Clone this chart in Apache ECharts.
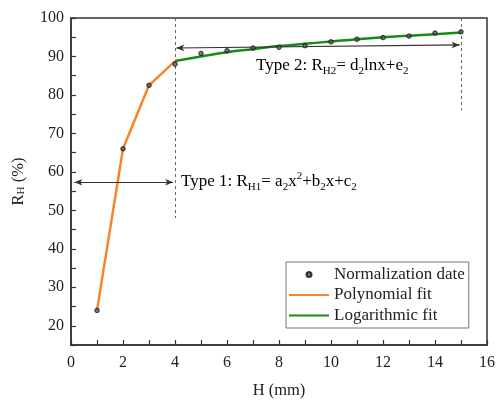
<!DOCTYPE html>
<html>
<head>
<meta charset="utf-8">
<script src="https://cdn.jsdelivr.net/npm/echarts@6/dist/echarts.min.js"></script>
<style>
  html, body { margin: 0; padding: 0; background: #fff; }
  #chart { width: 498px; height: 400px; }
</style>
</head>
<body>
<div id="chart"></div>
<script>
// Measured normalization points
const pointH = [1, 2, 3, 4, 5, 6, 7, 8, 9, 10, 11, 12, 13, 14, 15];
const pointR = [24.0, 66.0, 82.5, 88.0, 90.8, 91.5, 92.2, 92.4, 92.8, 93.8, 94.5, 94.9, 95.3, 96.1, 96.4];

// Polynomial fit (Type 1 region, H = 1..4)
const polyH = [1, 2, 3, 4];
const polyR = [24.0, 66.0, 82.5, 88.8];

// Logarithmic fit (Type 2 region, H = 4..15)
const logH = [4, 5, 6, 7, 8, 9, 10, 11, 12, 13, 14, 15];
const logR = [88.8, 90.0, 91.1, 91.9, 92.7, 93.3, 93.9, 94.5, 95.0, 95.4, 95.8, 96.2];

// Region boundaries and range arrows
const boundary1 = { h: 4, from: 100, to: 48 };
const boundary2 = { h: 15, from: 100, to: 76 };
const arrow1 = [[0.13, 57.3], [3.93, 57.3]];
const arrow2 = [[4.05, 92.2], [14.95, 93.0]];

const xTicks = [0, 2, 4, 6, 8, 10, 12, 14, 16];
const yTicks = [20, 30, 40, 50, 60, 70, 80, 90, 100];

const pair = (xs, ys) => xs.map((x, i) => [x, ys[i]]);

const serif = '"Liberation Serif", "Times New Roman", serif';
const axisColor = '#333';
const orange = '#f5842a';
const green = '#188a18';

const chart = echarts.init(document.getElementById('chart'), null, { renderer: 'canvas' });

const eqRich = {
  base: { fontFamily: serif, fontSize: 17, color: '#222', lineHeight: 22 },
  sub: { fontFamily: serif, fontSize: 11, color: '#222', lineHeight: 12, verticalAlign: 'bottom' },
  sup: { fontFamily: serif, fontSize: 11, color: '#222', lineHeight: 12, verticalAlign: 'top' }
};

chart.setOption({
  animation: false,
  backgroundColor: '#fff',
  textStyle: { fontFamily: serif },
  grid: {
    left: 71, right: 11, top: 18, bottom: 55,
    outerBoundsMode: 'none',
    show: true, borderColor: axisColor, borderWidth: 1.5, backgroundColor: 'transparent'
  },
  xAxis: {
    type: 'value', min: 0, max: 16, interval: 1,
    name: 'H (mm)', nameLocation: 'middle', nameGap: 37,
    nameTextStyle: { fontFamily: serif, fontSize: 16.5, color: '#222' },
    axisLine: { show: true, onZero: false, lineStyle: { color: axisColor, width: 1.5 } },
    axisTick: { show: true, inside: true, length: 5, lineStyle: { color: axisColor, width: 1.2 } },
    axisLabel: {
      fontFamily: serif, fontSize: 16, color: '#222', margin: 10,
      formatter: v => (xTicks.includes(v) ? String(v) : '')
    },
    splitLine: { show: false }
  },
  yAxis: {
    type: 'value', min: 15, max: 100, interval: 5,
    name: 'R{s|H} (%)', nameLocation: 'middle', nameGap: 44, nameRotate: 90,
    nameTextStyle: {
      fontFamily: serif, fontSize: 16.5, color: '#222',
      rich: {
        s: { fontFamily: serif, fontSize: 11, color: '#222', verticalAlign: 'bottom', lineHeight: 12 }
      }
    },
    axisLine: { show: true, onZero: false, lineStyle: { color: axisColor, width: 1.5 } },
    axisTick: { show: true, inside: true, length: 5, lineStyle: { color: axisColor, width: 1.2 } },
    axisLabel: {
      fontFamily: serif, fontSize: 16, color: '#222', margin: 7,
      formatter: v => (yTicks.includes(v) ? String(v) : '')
    },
    splitLine: { show: false }
  },
  legend: {
    data: [
      { name: 'Normalization date', icon: 'circle' },
      { name: 'Polynomial fit', itemStyle: { opacity: 0 } },
      { name: 'Logarithmic fit', itemStyle: { opacity: 0 } }
    ],
    orient: 'vertical',
    left: 286, top: 262,
    padding: [4, 4, 4, 2],
    itemWidth: 40, itemHeight: 5, itemGap: 3.5,
    borderColor: '#777', borderWidth: 1,
    textStyle: { fontFamily: serif, fontSize: 17, color: '#222', lineHeight: 17 }
  },
  series: [
    {
      name: 'Polynomial fit', type: 'line', data: pair(polyH, polyR),
      symbol: 'none', lineStyle: { color: orange, width: 2.5 }, itemStyle: { color: orange }, z: 3
    },
    {
      name: 'Logarithmic fit', type: 'line', data: pair(logH, logR), smooth: true,
      symbol: 'none', lineStyle: { color: green, width: 2.5 }, itemStyle: { color: green }, z: 3
    },
    {
      name: 'Normalization date', type: 'scatter', data: pair(pointH, pointR),
      symbol: 'circle', symbolSize: 4.5,
      itemStyle: { color: '#555', borderColor: '#111', borderWidth: 1 }, z: 5
    },
    {
      name: 'guides', type: 'line', data: [], silent: true, z: 2,
      markLine: {
        silent: true, animation: false,
        label: { show: false },
        emphasis: { disabled: true },
        data: [
          [
            { coord: [boundary1.h, boundary1.from], symbol: 'none', lineStyle: { type: [3, 3], color: '#666', width: 1 } },
            { coord: [boundary1.h, boundary1.to], symbol: 'none' }
          ],
          [
            { coord: [boundary2.h, boundary2.from], symbol: 'none', lineStyle: { type: [3, 3], color: '#666', width: 1 } },
            { coord: [boundary2.h, boundary2.to], symbol: 'none' }
          ],
          [
            { coord: arrow1[0], symbol: 'arrow', symbolSize: [5, 8], lineStyle: { type: 'solid', color: '#333', width: 1.2 } },
            { coord: arrow1[1], symbol: 'arrow', symbolSize: [5, 8] }
          ],
          [
            { coord: arrow2[0], symbol: 'arrow', symbolSize: [5, 8], lineStyle: { type: 'solid', color: '#333', width: 1.2 } },
            { coord: arrow2[1], symbol: 'arrow', symbolSize: [5, 8] }
          ]
        ]
      }
    }
  ],
  graphic: [
    {
      type: 'text', left: 181, top: 171, silent: true,
      style: {
        text: '{base|Type 1: R}{sub|H1}{base|= a}{sub|2}{base|x}{sup|2}{base|+b}{sub|2}{base|x+c}{sub|2}',
        rich: eqRich
      }
    },
    {
      type: 'text', left: 256, top: 57, silent: true,
      style: {
        text: '{base|Type 2: R}{sub|H2}{base|= d}{sub|2}{base|lnx+e}{sub|2}',
        rich: eqRich
      }
    }
  ]
});
</script>
</body>
</html>
